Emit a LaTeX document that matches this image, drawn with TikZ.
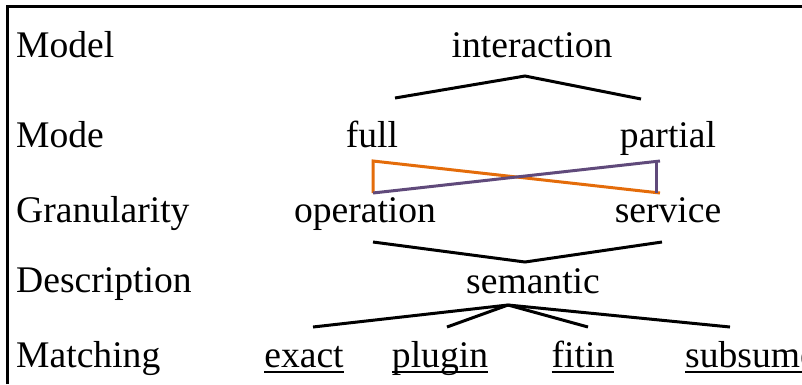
\documentclass[tikz,border=0pt]{standalone}
\usepackage{fontspec}
\setmainfont{Liberation Serif}
\usetikzlibrary{calc}
\definecolor{branchorange}{RGB}{228,108,10}
\definecolor{branchpurple}{RGB}{96,74,123}
\newcommand{\ulword}[1]{\setbox0\hbox{#1}\rlap{\vrule width\wd0 height -4pt depth 6pt}\box0}

\begin{document}
\begin{tikzpicture}[x=1pt,y=-1pt,
  every node/.style={inner sep=0pt,font=\fontsize{37.6}{40}\selectfont},
  dim/.style={anchor=base west},
  val/.style={anchor=base},
  branch/.style={line width=3pt,line join=miter}]
  \useasboundingbox (0,0) rectangle (802,384);
  \draw[line width=3pt] (7,384) -- (7,6) -- (802,6);
  \node[dim] (model) at (16,57) {Model};
  \node[dim] (mode) at (16,147) {Mode};
  \node[dim] (gran) at (16,222) {Granularity};
  \node[dim] (desc) at (16,292) {Description};
  \node[dim] (match) at (16,367) {Matching};
  \node[val] (interaction) at (532,57) {interaction};
  \node[val] (full) at (372,147) {full};
  \node[val] (partial) at (668,147) {partial};
  \node[val] (operation) at (365,222) {operation};
  \node[val] (service) at (668,222) {service};
  \node[val] (semantic) at (533,293) {semantic};
  \node[val] (exact) at (304,367) {\ulword{exact}};
  \node[val] (plugin) at (440,367) {\ulword{plugin}};
  \node[val] (fitin) at (583,367) {\ulword{fitin}};
  \node[val] (subsume) at (751,367) {\ulword{subsume}};
  \coordinate (int-j) at (525,76);
  \coordinate (full-j) at (395,98);
  \coordinate (partial-j) at (641,99);
  \coordinate (full-b) at (373,161);
  \coordinate (op-t) at (373,193);
  \coordinate (partial-b) at (656,161);
  \coordinate (serv-t) at (656,193);
  \coordinate (op-b) at (373,242);
  \coordinate (sem-t) at (525,262);
  \coordinate (serv-b) at (662,242);
  \coordinate (sem-b) at (508,305);
  \coordinate (exact-t) at (313,327);
  \coordinate (plugin-t) at (447,327);
  \coordinate (fitin-t) at (588,327);
  \coordinate (subsume-t) at (730,327);
  \draw[branch] (full-j) -- (int-j) -- (partial-j);
  \draw[branch,branchorange] ($(serv-t)+(4,0)$) -- (full-b) -- (op-t);
  \draw[branch,branchpurple] (op-t) -- ($(partial-b)+(4,0)$);
  \draw[branch,branchpurple] (partial-b) -- (serv-t);
  \draw[branch] (op-b) -- (sem-t) -- (serv-b);
  \draw[branch] (sem-b) -- (exact-t);
  \draw[branch] (sem-b) -- (plugin-t);
  \draw[branch] (sem-b) -- (fitin-t);
  \draw[branch] (sem-b) -- (subsume-t);
\end{tikzpicture}
\end{document}
